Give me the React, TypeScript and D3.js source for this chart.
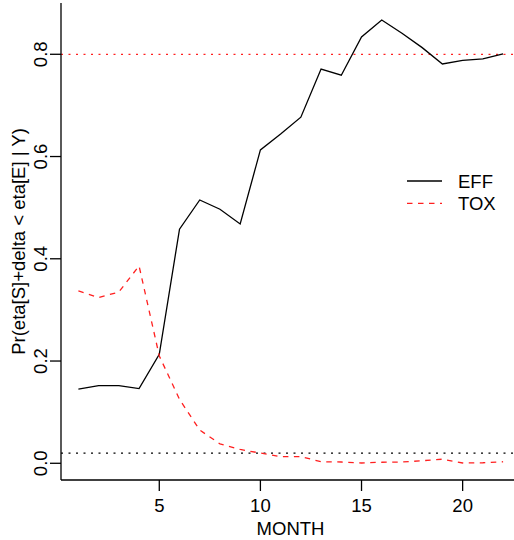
import React from "react";
import * as d3 from "d3";

// Posterior probability traces by month
const months = d3.range(1, 23);
const effProb = [0.145, 0.152, 0.152, 0.146, 0.213, 0.458, 0.515, 0.497, 0.468, 0.613, 0.644, 0.677, 0.771, 0.759, 0.834, 0.867, 0.841, 0.813, 0.781, 0.788, 0.791, 0.801];
const toxProb = [0.337, 0.324, 0.335, 0.386, 0.21, 0.125, 0.065, 0.038, 0.027, 0.02, 0.013, 0.013, 0.003, 0.0025, 0.0006, 0.002, 0.0025, 0.005, 0.008, 0.0006, 0.001, 0.003];
const xTicks = [5, 10, 15, 20];
const yTicks = [0, 0.2, 0.4, 0.6, 0.8];
const upperCut = 0.8;
const lowerCut = 0.02;
const legendItems = [
  { label: "EFF", color: "#000000", dash: null as string | null },
  { label: "TOX", color: "#ff2020", dash: "5.5,5.5" },
];

const W = 514;
const H = 540;
const left = 61;
const right = 514;
const top = 3;
const bottom = 480;
const font = "'Liberation Sans', Arial, Helvetica, sans-serif";

export default function App() {
  const x = d3.scaleLinear().domain([0.14, 22.54]).range([left, right]);
  const y = d3.scaleLinear().domain([-0.0327, 0.9003]).range([bottom, top]);

  const line = d3
    .line<number>()
    .x((_, i) => x(months[i]))
    .y((d) => y(d));

  return (
    <svg
      width={W}
      height={H}
      style={{ position: "absolute", left: 0, top: 0, background: "#fff" }}
      fontFamily={font}
    >
      {/* reference thresholds */}
      <line x1={left} x2={right} y1={y(upperCut)} y2={y(upperCut)} stroke="#ff2020" strokeWidth={1.3} strokeDasharray="2,5.5" />
      <line x1={left} x2={right} y1={y(lowerCut)} y2={y(lowerCut)} stroke="#000" strokeWidth={1.3} strokeDasharray="2,5.5" />

      {/* series */}
      <path d={line(effProb) ?? ""} fill="none" stroke="#000" strokeWidth={1.3} />
      <path d={line(toxProb) ?? ""} fill="none" stroke="#ff2020" strokeWidth={1.3} strokeDasharray="5.5,5.5" />

      {/* axes (L-shaped frame) */}
      <line x1={left} x2={left} y1={top} y2={bottom} stroke="#000" strokeWidth={1.3} />
      <line x1={left} x2={right} y1={bottom} y2={bottom} stroke="#000" strokeWidth={1.3} />

      {xTicks.map((t) => (
        <g key={"x" + t}>
          <line x1={x(t)} x2={x(t)} y1={bottom} y2={bottom + 11} stroke="#000" strokeWidth={1.3} />
          <text x={x(t)} y={512} textAnchor="middle" fontSize={18.5}>
            {t}
          </text>
        </g>
      ))}
      {yTicks.map((t) => (
        <g key={"y" + t}>
          <line x1={left} x2={left - 11} y1={y(t)} y2={y(t)} stroke="#000" strokeWidth={1.3} />
          <text
            transform={`translate(46.5,${y(t)}) rotate(-90)`}
            textAnchor="middle"
            fontSize={18.5}
          >
            {t.toFixed(1)}
          </text>
        </g>
      ))}

      <text x={290.5} y={535} textAnchor="middle" fontSize={18.5}>
        MONTH
      </text>
      <text
        transform={`translate(25,${(top + bottom) / 2}) rotate(-90)`}
        textAnchor="middle"
        fontSize={18.5}
      >
        Pr(eta[S]+delta &lt; eta[E] | Y)
      </text>

      {/* legend */}
      {legendItems.map((d, i) => (
        <g key={d.label} transform={`translate(0,${181 + i * 22.3})`}>
          <line x1={407} x2={442} y1={0} y2={0} stroke={d.color} strokeWidth={1.3} strokeDasharray={d.dash ?? undefined} />
          <text x={458} y={6.5} fontSize={18.5}>
            {d.label}
          </text>
        </g>
      ))}
    </svg>
  );
}
